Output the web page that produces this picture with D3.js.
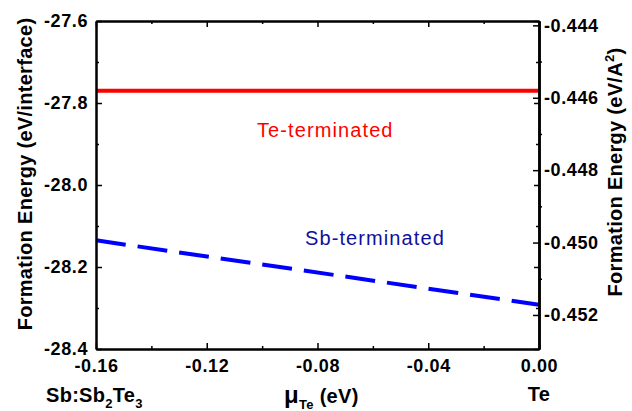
<!DOCTYPE html>
<html>
<head>
<meta charset="utf-8">
<script src="https://cdn.jsdelivr.net/npm/d3@7"></script>
<style>
  body { margin: 0; background: #fff; }
  svg text { font-family: "Liberation Sans", Arial, sans-serif; }
  .tick text { font-size: 18px; font-weight: bold; letter-spacing: 0.6px; fill: #000; }
  .tick line { stroke: #000; stroke-width: 1.5; }
  .domain { stroke: #000; stroke-width: 2; }
  .title { font-size: 20px; font-weight: bold; letter-spacing: 0.3px; fill: #000; }
</style>
</head>
<body>
<div id="chart"></div>
<script>
// chemical potential of Te (eV)
const muTe = [-0.16, 0.00]
// formation energies (eV/interface)
const teTerminated = [-27.77, -27.77]
const sbTerminated = [-28.135, -28.292]

const xTicks = [-0.16, -0.12, -0.08, -0.04, 0.00]
const xMinor = [-0.14, -0.10, -0.06, -0.02]
const yTicks = [-27.6, -27.8, -28.0, -28.2, -28.4]
const yMinor = [-27.7, -27.9, -28.1, -28.3]
const y2Ticks = [-0.444, -0.446, -0.448, -0.450, -0.452]
const y2Minor = [-0.445, -0.447, -0.449, -0.451]

const width = 632, height = 411
const margin = {top: 21, right: 93, bottom: 62, left: 96}

const svg = d3.select('#chart').append('svg')
  .attr('width', width)
  .attr('height', height)

const x = d3.scaleLinear()
  .domain([-0.16, 0])
  .range([margin.left, width - margin.right])

const y = d3.scaleLinear()
  .domain([-28.4, -27.6])
  .range([height - margin.bottom, margin.top])

// right axis in eV/A^2
const y2 = d3.scaleLinear()
  .domain([-0.45294, -0.44388])
  .range([height - margin.bottom, margin.top])

const line = d3.line()
  .x((d, i) => x(muTe[i]))
  .y(d => y(d))

// lines
svg.append('path')
  .attr('d', line(teTerminated))
  .attr('fill', 'none')
  .attr('stroke', '#ff0000')
  .attr('stroke-width', 4)

svg.append('path')
  .attr('d', line(sbTerminated))
  .attr('fill', 'none')
  .attr('stroke', '#0000ff')
  .attr('stroke-width', 4)
  .attr('stroke-dasharray', '30,12')

// minor ticks first, majors on top
function minor(axis, vals, tx) {
  svg.append('g')
    .attr('transform', tx)
    .call(axis.tickValues(vals).tickSize(-3).tickSizeOuter(0).tickFormat(''))
}

const yb = height - margin.bottom
minor(d3.axisBottom(x), xMinor, `translate(0,${yb})`)
minor(d3.axisTop(x), xMinor, `translate(0,${margin.top})`)
minor(d3.axisLeft(y), yMinor, `translate(${margin.left},0)`)
minor(d3.axisRight(y), yMinor, `translate(${x(0)},0)`)
minor(d3.axisLeft(y2), y2Minor, `translate(${x(0)},0)`)

svg.append('g')
  .attr('transform', `translate(0,${margin.top})`)
  .call(d3.axisTop(x).tickValues(xTicks).tickSize(-6).tickSizeOuter(0).tickFormat(''))

svg.append('g')
  .attr('transform', `translate(${x(0)},0)`)
  .call(d3.axisRight(y).tickValues(yTicks).tickSize(-5).tickSizeOuter(0).tickFormat(''))

svg.append('g')
  .attr('transform', `translate(0,${yb})`)
  .call(d3.axisBottom(x).tickValues(xTicks).tickSize(-6).tickSizeOuter(0)
    .tickPadding(10).tickFormat(d3.format('.2f')))

svg.append('g')
  .attr('transform', `translate(${margin.left},0)`)
  .call(d3.axisLeft(y).tickValues(yTicks).tickSize(-6).tickSizeOuter(0)
    .tickPadding(8).tickFormat(d3.format('.1f')))

svg.append('g')
  .attr('transform', `translate(${x(0)},0)`)
  .call(d3.axisRight(y2).tickValues(y2Ticks).tickSize(-6).tickSizeOuter(0)
    .tickPadding(5).tickFormat(d3.format('.3f')))

svg.selectAll('.tick text').text(function() { return this.textContent.replace('−', '-') })

// annotations
svg.append('text')
  .attr('x', 257).attr('y', 137)
  .attr('fill', '#ff0000')
  .style('font-size', '20px')
  .style('letter-spacing', '1.1px')
  .text('Te-terminated')

svg.append('text')
  .attr('x', 305).attr('y', 245)
  .attr('fill', '#10109c')
  .style('font-size', '20px')
  .style('letter-spacing', '1.1px')
  .text('Sb-terminated')

// axis titles
svg.append('text')
  .attr('class', 'title')
  .attr('text-anchor', 'middle')
  .attr('transform', 'translate(32,174) rotate(-90)')
  .text('Formation Energy (eV/interface)')

const rt = svg.append('text')
  .attr('class', 'title')
  .attr('text-anchor', 'middle')
  .attr('transform', 'translate(622,172) rotate(-90)')
rt.append('tspan').text('Formation Energy (eV/A')
rt.append('tspan').attr('dy', -8).style('font-size', '13px').text('2')
rt.append('tspan').attr('dy', 8).text(')')

const bl = svg.append('text')
  .attr('class', 'title')
  .attr('x', 46).attr('y', 402)
bl.append('tspan').text('Sb:Sb')
bl.append('tspan').attr('dy', 6).style('font-size', '13px').text('2')
bl.append('tspan').attr('dy', -6).text('Te')
bl.append('tspan').attr('dy', 6).style('font-size', '13px').text('3')

const bm = svg.append('text')
  .attr('class', 'title')
  .attr('x', 284).attr('y', 403)
bm.append('tspan').style('font-size', '24px').text('μ')
bm.append('tspan').attr('dy', 6).style('font-size', '13px').text('Te')
bm.append('tspan').attr('dy', -6).text(' (eV)')

svg.append('text')
  .attr('class', 'title')
  .attr('text-anchor', 'middle')
  .attr('x', x(0)).attr('y', 401)
  .text('Te')
</script>
</body>
</html>
